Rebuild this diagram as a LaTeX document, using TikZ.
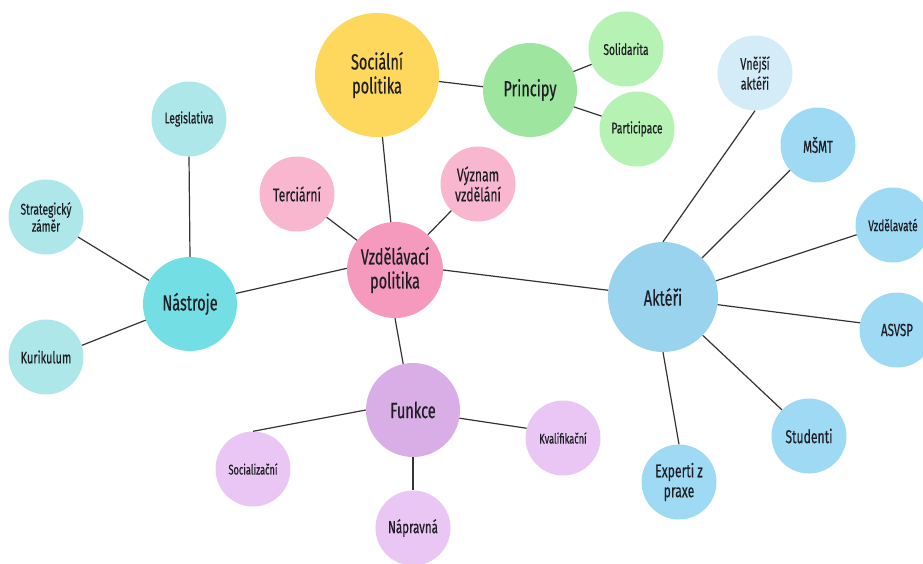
\documentclass[tikz,border=0pt]{standalone}
\usepackage{fontspec}
\setmainfont{Fira Sans}[FakeStretch=0.66, FakeBold=0.4]

\definecolor{socyellow}{HTML}{FDD85D}
\definecolor{prgreen}{HTML}{9EE6A0}
\definecolor{prlight}{HTML}{B5F2B3}
\definecolor{aktblue}{HTML}{9AD3EE}
\definecolor{aktlight}{HTML}{9FDAF5}
\definecolor{aktpale}{HTML}{D4ECF8}
\definecolor{vzdpink}{HTML}{F599BD}
\definecolor{vzdlight}{HTML}{F8B6CF}
\definecolor{funpurple}{HTML}{D9ADE6}
\definecolor{funlight}{HTML}{E9C6F3}
\definecolor{nascyan}{HTML}{73DEE4}
\definecolor{naslight}{HTML}{ADE7EA}
\definecolor{inktext}{HTML}{1E1E24}

\begin{document}
\begin{tikzpicture}[x=1pt,y=-1pt,
  bubble/.style={circle, inner sep=0pt, text=inktext, align=center},
  bigbub/.style={bubble, font=\fontsize{22}{24}\selectfont},
  smallbub/.style={bubble, minimum size=75pt, font=\fontsize{15.5}{18}\selectfont},
  link/.style={draw=black!80, line width=1.2pt}]

\useasboundingbox (0,0) rectangle (923,563);
\clip (0,0) rectangle (923,563);

% Centre
\node[bigbub, fill=vzdpink, minimum size=96pt] (vzd) at (395,270) {Vzdělávací\\politika};

% Social policy
\node[bigbub, fill=socyellow, minimum size=124pt] (soc) at (377,75) {Sociální\\politika};
\node[bigbub, fill=prgreen, minimum size=94pt] (pri) at (530,90) {Principy};
\node[smallbub, fill=prlight] (sol) at (626,49) {Solidarita};
\node[smallbub, fill=prlight] (par) at (637,129) {Participace};

% Actors
\node[bigbub, fill=aktblue, minimum size=110pt] (akt) at (663,297) {Aktéři};
\node[smallbub, fill=aktpale, font=\fontsize{16.5}{20}\selectfont] (vne) at (755,73) {Vnější\\aktéři};
\node[smallbub, fill=aktlight, font=\fontsize{17.5}{20}\selectfont] (msm) at (818,145) {MŠMT};
\node[smallbub, fill=aktlight] (vzv) at (893,225) {Vzdělavaté};
\node[smallbub, fill=aktlight, font=\fontsize{17.5}{20}\selectfont] (asv) at (897,330) {ASVSP};
\node[smallbub, fill=aktlight, font=\fontsize{18.5}{20}\selectfont] (stu) at (809,436) {Studenti};
\node[smallbub, fill=aktlight, font=\fontsize{18.5}{20}\selectfont] (exp) at (679,482) {Experti z\\praxe};

% Functions
\node[bigbub, fill=funpurple, minimum size=94pt] (fun) at (413,410) {Funkce};
\node[smallbub, fill=funlight, font=\fontsize{14}{16}\selectfont] (soz) at (253,469) {Socializační};
\node[smallbub, fill=funlight, font=\fontsize{17.5}{20}\selectfont] (nap) at (413,528) {Nápravná};
\node[smallbub, fill=funlight, font=\fontsize{14}{16}\selectfont] (kva) at (563,438) {Kvalifikační};

% Pink satellites
\node[smallbub, fill=vzdlight, font=\fontsize{18.5}{20}\selectfont] (ter) at (297,194) {Terciární};
\node[smallbub, fill=vzdlight, font=\fontsize{18.5}{20}\selectfont] (vyz) at (478,184) {Význam\\vzdělání};

% Tools
\node[bigbub, fill=nascyan, minimum size=94pt] (nas) at (190,304) {Nástroje};
\node[smallbub, fill=naslight] (leg) at (189,119) {Legislativa};
\node[smallbub, fill=naslight, font=\fontsize{15.5}{17}\selectfont] (str) at (46,217) {Strategický\\záměr};
\node[smallbub, fill=naslight, font=\fontsize{16.5}{18}\selectfont] (kur) at (46,357) {Kurikulum};

% Links
\draw[link] (soc.275) -- (vzd.95);
\draw[link] (soc.354) -- (pri.176);
\draw[link] (pri.23) -- (sol.204);
\draw[link] (pri.339) -- (par.160);
\draw[link] (vzd.142) -- (ter.322);
\draw[link] (vzd.47) -- (vyz.225);
\draw[link] (vzd.0) -- (akt.173);
\draw[link] (vzd.178) -- (nas.13);
\draw[link] (vzd.south) -- (fun.102);
\draw[link] (akt.north) -- (vne.south);
\draw[link] (akt.45) -- (msm.222);
\draw[link] (akt.17) -- (vzv.195);
\draw[link] (akt.352) -- (asv.169);
\draw[link] (akt.316) -- (stu.136);
\draw[link] (akt.south) -- (exp.north);
\draw[link] (fun.180) -- (soz.north);
\draw[link] (fun.south) -- (nap.north);
\draw[link] (fun.350) -- (kva.165);
\draw[link] (nas.north) -- (leg.south);
\draw[link] (nas.150) -- (str.328);
\draw[link] (nas.200) -- (kur.18);

\end{tikzpicture}
\end{document}
